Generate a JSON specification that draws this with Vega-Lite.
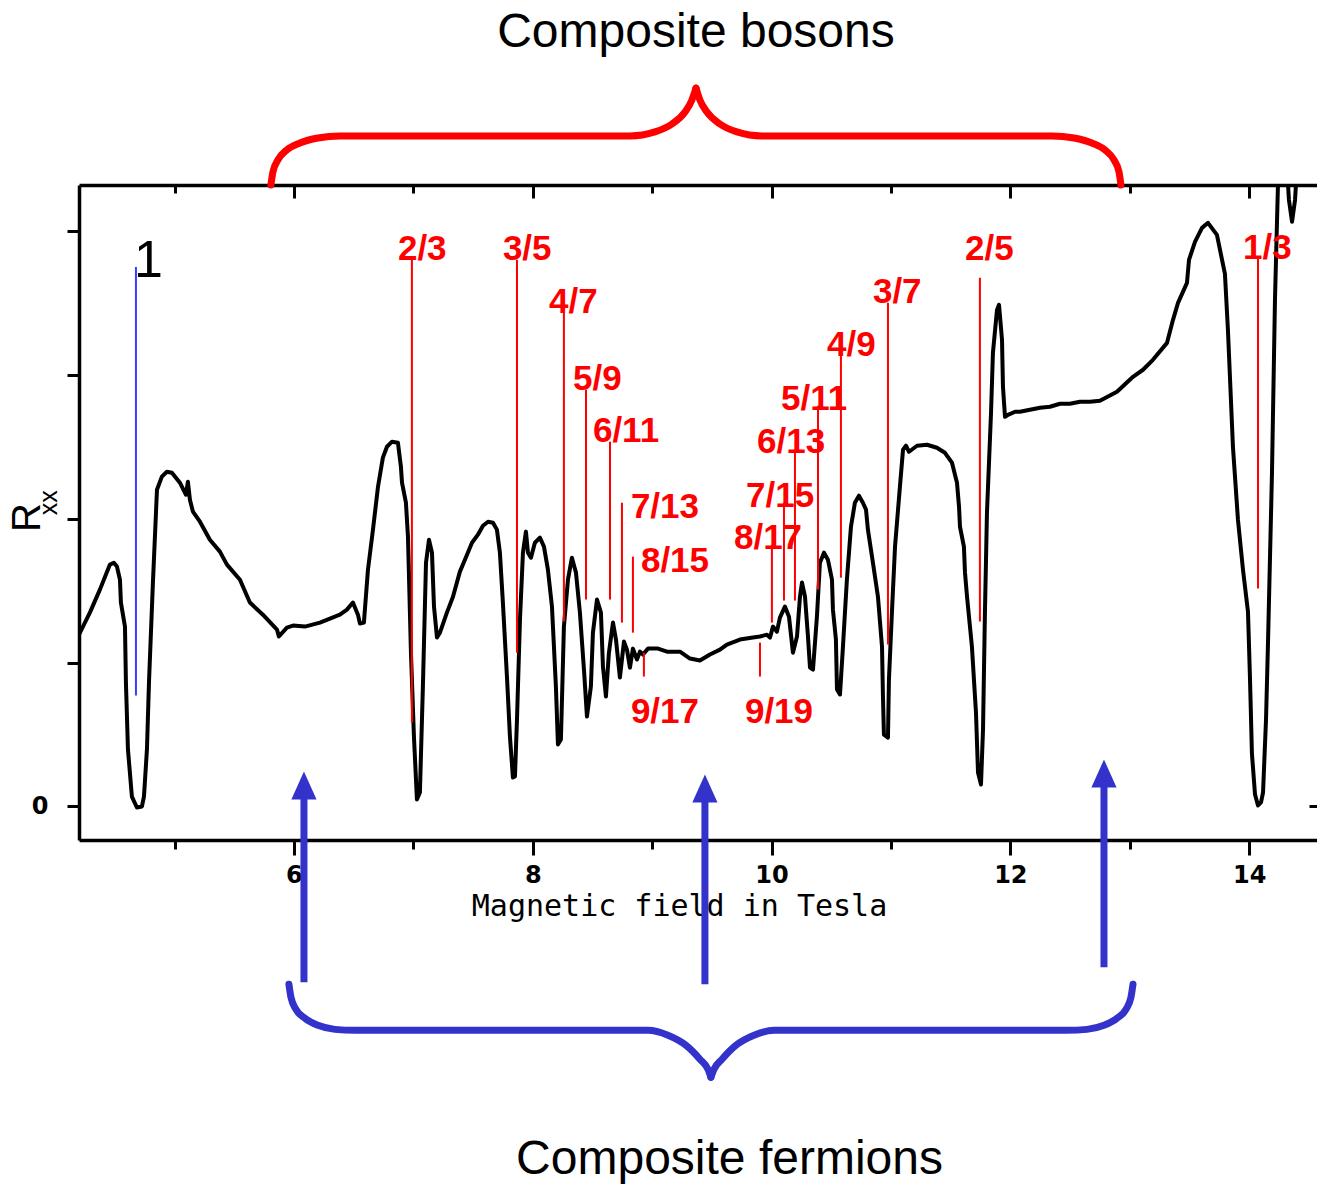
{
  "$schema": "https://vega.github.io/schema/vega-lite/v6.json",
  "width": 1238,
  "height": 655,
  "autosize": {"type": "none"},
  "padding": {"left": 79, "top": 185, "right": 0, "bottom": 344},
  "background": "white",
  "config": {"view": {"stroke": null}, "font": "Liberation Sans"},
  "datasets": {
    "curve": [
      {"b":4.2,"r":1.194},{"b":4.291,"r":1.347},{"b":4.375,"r":1.507},{"b":4.459,"r":1.681},{"b":4.492,"r":1.694},{"b":4.518,"r":1.667},{"b":4.543,"r":1.576},{"b":4.551,"r":1.417},{"b":4.585,"r":1.25},{"b":4.593,"r":0.861},{"b":4.61,"r":0.396},{"b":4.643,"r":0.069},{"b":4.685,"r":-0.007},{"b":4.727,"r":0},{"b":4.744,"r":0.069},{"b":4.769,"r":0.396},{"b":4.786,"r":0.861},{"b":4.819,"r":1.556},{"b":4.853,"r":2.201},{"b":4.894,"r":2.292},{"b":4.936,"r":2.326},{"b":4.978,"r":2.319},{"b":5.045,"r":2.25},{"b":5.095,"r":2.167},{"b":5.112,"r":2.257},{"b":5.129,"r":2.132},{"b":5.154,"r":2.049},{"b":5.213,"r":1.979},{"b":5.296,"r":1.854},{"b":5.38,"r":1.771},{"b":5.439,"r":1.681},{"b":5.548,"r":1.576},{"b":5.631,"r":1.417},{"b":5.74,"r":1.333},{"b":5.858,"r":1.229},{"b":5.874,"r":1.181},{"b":5.941,"r":1.243},{"b":5.992,"r":1.257},{"b":6.092,"r":1.25},{"b":6.218,"r":1.278},{"b":6.385,"r":1.333},{"b":6.444,"r":1.368},{"b":6.494,"r":1.417},{"b":6.536,"r":1.333},{"b":6.553,"r":1.271},{"b":6.586,"r":1.278},{"b":6.62,"r":1.646},{"b":6.662,"r":1.924},{"b":6.704,"r":2.222},{"b":6.745,"r":2.424},{"b":6.779,"r":2.5},{"b":6.821,"r":2.535},{"b":6.871,"r":2.528},{"b":6.896,"r":2.361},{"b":6.905,"r":2.25},{"b":6.938,"r":2.111},{"b":6.955,"r":1.875},{"b":6.98,"r":1.069},{"b":7.005,"r":0.486},{"b":7.03,"r":0.049},{"b":7.055,"r":0.097},{"b":7.08,"r":0.833},{"b":7.106,"r":1.694},{"b":7.131,"r":1.854},{"b":7.156,"r":1.764},{"b":7.173,"r":1.389},{"b":7.198,"r":1.174},{"b":7.223,"r":1.208},{"b":7.281,"r":1.347},{"b":7.332,"r":1.458},{"b":7.39,"r":1.632},{"b":7.432,"r":1.715},{"b":7.491,"r":1.833},{"b":7.541,"r":1.889},{"b":7.583,"r":1.951},{"b":7.625,"r":1.979},{"b":7.667,"r":1.972},{"b":7.7,"r":1.924},{"b":7.725,"r":1.764},{"b":7.75,"r":1.417},{"b":7.784,"r":0.903},{"b":7.809,"r":0.486},{"b":7.834,"r":0.201},{"b":7.851,"r":0.208},{"b":7.868,"r":0.604},{"b":7.893,"r":1.299},{"b":7.918,"r":1.764},{"b":7.943,"r":1.91},{"b":7.96,"r":1.764},{"b":7.985,"r":1.729},{"b":8.018,"r":1.833},{"b":8.06,"r":1.868},{"b":8.094,"r":1.806},{"b":8.127,"r":1.646},{"b":8.161,"r":1.389},{"b":8.194,"r":0.833},{"b":8.211,"r":0.431},{"b":8.236,"r":0.465},{"b":8.261,"r":1.25},{"b":8.295,"r":1.576},{"b":8.328,"r":1.729},{"b":8.362,"r":1.625},{"b":8.395,"r":1.347},{"b":8.429,"r":0.951},{"b":8.454,"r":0.625},{"b":8.487,"r":0.833},{"b":8.504,"r":1.208},{"b":8.538,"r":1.438},{"b":8.571,"r":1.347},{"b":8.588,"r":0.972},{"b":8.613,"r":0.764},{"b":8.638,"r":1.069},{"b":8.672,"r":1.278},{"b":8.697,"r":1.16},{"b":8.73,"r":0.896},{"b":8.764,"r":1.146},{"b":8.789,"r":1.09},{"b":8.814,"r":0.965},{"b":8.839,"r":1.097},{"b":8.873,"r":1.021},{"b":8.898,"r":1.076},{"b":8.923,"r":1.056},{"b":8.965,"r":1.097},{"b":9.049,"r":1.097},{"b":9.124,"r":1.076},{"b":9.233,"r":1.076},{"b":9.317,"r":1.028},{"b":9.4,"r":1.014},{"b":9.484,"r":1.056},{"b":9.568,"r":1.09},{"b":9.626,"r":1.125},{"b":9.735,"r":1.16},{"b":9.844,"r":1.174},{"b":9.903,"r":1.181},{"b":9.961,"r":1.194},{"b":9.987,"r":1.174},{"b":10.012,"r":1.25},{"b":10.045,"r":1.215},{"b":10.07,"r":1.313},{"b":10.112,"r":1.389},{"b":10.146,"r":1.319},{"b":10.179,"r":1.069},{"b":10.213,"r":1.181},{"b":10.238,"r":1.458},{"b":10.255,"r":1.556},{"b":10.28,"r":1.458},{"b":10.305,"r":1.181},{"b":10.322,"r":0.965},{"b":10.347,"r":0.951},{"b":10.38,"r":1.319},{"b":10.405,"r":1.694},{"b":10.439,"r":1.764},{"b":10.472,"r":1.715},{"b":10.506,"r":1.576},{"b":10.514,"r":1.368},{"b":10.539,"r":1.16},{"b":10.548,"r":0.813},{"b":10.573,"r":0.778},{"b":10.598,"r":1.111},{"b":10.631,"r":1.576},{"b":10.665,"r":1.944},{"b":10.698,"r":2.111},{"b":10.732,"r":2.16},{"b":10.765,"r":2.111},{"b":10.791,"r":2.063},{"b":10.807,"r":1.924},{"b":10.849,"r":1.694},{"b":10.891,"r":1.458},{"b":10.925,"r":1.111},{"b":10.933,"r":0.764},{"b":10.941,"r":0.5},{"b":10.975,"r":0.479},{"b":10.983,"r":0.882},{"b":11.008,"r":1.347},{"b":11.034,"r":1.806},{"b":11.075,"r":2.222},{"b":11.101,"r":2.479},{"b":11.126,"r":2.507},{"b":11.151,"r":2.465},{"b":11.218,"r":2.507},{"b":11.302,"r":2.514},{"b":11.385,"r":2.493},{"b":11.452,"r":2.458},{"b":11.511,"r":2.389},{"b":11.553,"r":2.25},{"b":11.57,"r":2.083},{"b":11.578,"r":1.944},{"b":11.611,"r":1.806},{"b":11.62,"r":1.625},{"b":11.637,"r":1.458},{"b":11.678,"r":1.111},{"b":11.712,"r":0.653},{"b":11.729,"r":0.236},{"b":11.754,"r":0.153},{"b":11.771,"r":0.535},{"b":11.787,"r":1.347},{"b":11.804,"r":2.042},{"b":11.838,"r":2.736},{"b":11.854,"r":3.153},{"b":11.888,"r":3.451},{"b":11.905,"r":3.486},{"b":11.93,"r":3.243},{"b":11.938,"r":2.917},{"b":11.955,"r":2.708},{"b":11.98,"r":2.722},{"b":12.039,"r":2.743},{"b":12.08,"r":2.743},{"b":12.164,"r":2.757},{"b":12.248,"r":2.771},{"b":12.332,"r":2.778},{"b":12.415,"r":2.799},{"b":12.499,"r":2.799},{"b":12.583,"r":2.813},{"b":12.667,"r":2.813},{"b":12.75,"r":2.819},{"b":12.893,"r":2.882},{"b":13.027,"r":2.986},{"b":13.111,"r":3.035},{"b":13.194,"r":3.104},{"b":13.312,"r":3.222},{"b":13.362,"r":3.382},{"b":13.404,"r":3.5},{"b":13.479,"r":3.639},{"b":13.496,"r":3.799},{"b":13.546,"r":3.924},{"b":13.605,"r":4.021},{"b":13.655,"r":4.056},{"b":13.73,"r":3.972},{"b":13.797,"r":3.701},{"b":13.822,"r":3.313},{"b":13.864,"r":2.5},{"b":13.906,"r":1.993},{"b":13.948,"r":1.646},{"b":13.99,"r":1.354},{"b":14.007,"r":0.882},{"b":14.023,"r":0.368},{"b":14.049,"r":0.083},{"b":14.074,"r":0.007},{"b":14.099,"r":0.028},{"b":14.116,"r":0.097},{"b":14.141,"r":0.604},{"b":14.157,"r":1.118},{"b":14.191,"r":2.319},{"b":14.216,"r":3.521},{"b":14.241,"r":4.319},{"b":14.266,"r":4.563},{"b":14.308,"r":4.563},{"b":14.333,"r":4.215},{"b":14.359,"r":4.063},{"b":14.384,"r":4.215},{"b":14.409,"r":4.563},{"b":14.442,"r":4.91}
    ],
    "fractions": [
      {"f":"2/3","x":6.988,"y1":3.799,"y2":0.583,"lx":6.871,"ly":3.799},
      {"f":"3/5","x":7.868,"y1":3.799,"y2":1.069,"lx":7.75,"ly":3.799},
      {"f":"4/7","x":8.261,"y1":3.431,"y2":1.285,"lx":8.136,"ly":3.431},
      {"f":"5/9","x":8.446,"y1":2.896,"y2":1.438,"lx":8.337,"ly":2.896},
      {"f":"6/11","x":8.647,"y1":2.535,"y2":1.438,"lx":8.504,"ly":2.535},
      {"f":"7/13","x":8.747,"y1":2.111,"y2":1.278,"lx":8.822,"ly":2.007},
      {"f":"8/15","x":8.839,"y1":1.736,"y2":1.208,"lx":8.906,"ly":1.632},
      {"f":"9/17","x":8.931,"y1":1.069,"y2":0.903,"lx":8.822,"ly":0.583},
      {"f":"9/19","x":9.903,"y1":1.139,"y2":0.903,"lx":9.777,"ly":0.583},
      {"f":"8/17","x":10.003,"y1":1.819,"y2":1.278,"lx":9.685,"ly":1.792},
      {"f":"7/15","x":10.104,"y1":2.111,"y2":1.431,"lx":9.786,"ly":2.083},
      {"f":"6/13","x":10.196,"y1":2.479,"y2":1.431,"lx":9.878,"ly":2.458},
      {"f":"5/11","x":10.389,"y1":2.785,"y2":1.507,"lx":10.079,"ly":2.757},
      {"f":"4/9","x":10.581,"y1":3.132,"y2":1.59,"lx":10.464,"ly":3.132},
      {"f":"3/7","x":10.975,"y1":3.5,"y2":1.125,"lx":10.849,"ly":3.5},
      {"f":"2/5","x":11.745,"y1":3.674,"y2":1.285,"lx":11.62,"ly":3.799},
      {"f":"1/3","x":14.074,"y1":3.819,"y2":1.514,"lx":13.948,"ly":3.806}
    ],
    "integer": [
      {"f":"1","x":4.677,"y1":3.75,"y2":0.771,"lx":4.66,"ly":3.681}
    ],
    "redbrace": [
      {"b":5.807,"r":4.319,"part":"L"},{"b":5.824,"r":4.41,"part":"L"},{"b":5.866,"r":4.493,"part":"L"},{"b":5.941,"r":4.563,"part":"L"},{"b":6.05,"r":4.611,"part":"L"},{"b":6.201,"r":4.646,"part":"L"},{"b":6.385,"r":4.66,"part":"L"},{"b":8.814,"r":4.66,"part":"L"},{"b":9.023,"r":4.688,"part":"L"},{"b":9.166,"r":4.743,"part":"L"},{"b":9.275,"r":4.826,"part":"L"},{"b":9.333,"r":4.91,"part":"L"},{"b":9.367,"r":4.993,"part":"L"},
      {"b":9.367,"r":4.993,"part":"R"},{"b":9.4,"r":4.91,"part":"R"},{"b":9.459,"r":4.826,"part":"R"},{"b":9.568,"r":4.743,"part":"R"},{"b":9.71,"r":4.688,"part":"R"},{"b":9.92,"r":4.66,"part":"R"},{"b":12.348,"r":4.66,"part":"R"},{"b":12.533,"r":4.646,"part":"R"},{"b":12.683,"r":4.611,"part":"R"},{"b":12.792,"r":4.563,"part":"R"},{"b":12.868,"r":4.493,"part":"R"},{"b":12.91,"r":4.41,"part":"R"},{"b":12.926,"r":4.319,"part":"R"}
    ],
    "bluebrace": [
      {"b":5.958,"r":-1.236,"part":"L"},{"b":5.975,"r":-1.326,"part":"L"},{"b":6.017,"r":-1.41,"part":"L"},{"b":6.092,"r":-1.472,"part":"L"},{"b":6.201,"r":-1.521,"part":"L"},{"b":6.343,"r":-1.549,"part":"L"},{"b":6.511,"r":-1.556,"part":"L"},{"b":8.965,"r":-1.556,"part":"L"},{"b":9.132,"r":-1.59,"part":"L"},{"b":9.283,"r":-1.66,"part":"L"},{"b":9.4,"r":-1.757,"part":"L"},{"b":9.467,"r":-1.826,"part":"L"},{"b":9.492,"r":-1.882,"part":"L"},
      {"b":9.492,"r":-1.882,"part":"R"},{"b":9.518,"r":-1.826,"part":"R"},{"b":9.585,"r":-1.757,"part":"R"},{"b":9.702,"r":-1.66,"part":"R"},{"b":9.853,"r":-1.59,"part":"R"},{"b":10.02,"r":-1.556,"part":"R"},{"b":12.474,"r":-1.556,"part":"R"},{"b":12.642,"r":-1.549,"part":"R"},{"b":12.784,"r":-1.521,"part":"R"},{"b":12.893,"r":-1.472,"part":"R"},{"b":12.968,"r":-1.41,"part":"R"},{"b":13.01,"r":-1.326,"part":"R"},{"b":13.027,"r":-1.236,"part":"R"}
    ],
    "arrows": [
      {"b":6.084,"y1":-1.222,"y2":0.07,"hy":0.146},
      {"b":9.442,"y1":-1.236,"y2":0.05,"hy":0.125},
      {"b":12.784,"y1":-1.118,"y2":0.15,"hy":0.229}
    ],
    "notes": [
      {"t":"Composite bosons","b":9.367,"r":5.278},
      {"t":"Composite fermions","b":9.648,"r":-2.556}
    ]
  },
  "layer": [
    {
      "data": {"name": "curve"},
      "mark": {"type": "line", "color": "black", "strokeWidth": 4, "strokeJoin": "round", "clip": true},
      "encoding": {
        "x": {"field": "b", "type": "quantitative",
          "scale": {"domain": [4.2, 14.568], "nice": false, "zero": false},
          "axis": {"orient": "bottom", "values": [5,6,7,8,9,10,11,12,13,14],
            "tickSize": {"condition": {"test": "datum.value % 2 == 0", "value": 15}, "value": 9},
            "tickWidth": 3, "tickColor": "black", "domainColor": "black", "domainWidth": 3.5, "grid": false,
            "labelExpr": "datum.value % 2 == 0 ? datum.label : ''",
            "labelFont": "DejaVu Sans", "labelFontWeight": "bold", "labelFontSize": 24, "labelColor": "black", "labelPadding": 8, "labelFlush": false,
            "title": "Magnetic field in Tesla", "titleFont": "DejaVu Sans Mono", "titleFontSize": 30, "titleFontWeight": "normal", "titleColor": "black",
            "titleX": 600, "titleY": 75, "titleBaseline": "alphabetic", "titleAlign": "center"}},
        "y": {"field": "r", "type": "quantitative",
          "scale": {"domain": [-0.233, 4.319], "nice": false, "zero": false},
          "axis": {"orient": "left", "values": [0,1,2,3,4], "tickSize": 12, "tickWidth": 3, "tickColor": "black",
            "domainColor": "black", "domainWidth": 3.5, "grid": false,
            "labelExpr": "datum.value == 0 ? '0' : ''", "labelFont": "DejaVu Sans", "labelFontWeight": "bold", "labelFontSize": 24, "labelColor": "black", "labelPadding": 19,
            "title": null}}
      }
    },
    {
      "data": {"name": "fractions"},
      "mark": {"type": "rule", "color": "#ff0000", "strokeWidth": 2},
      "encoding": {
        "x": {"field": "x", "type": "quantitative",
          "scale": {"domain": [4.2, 14.568], "nice": false, "zero": false},
          "axis": {"orient": "top", "values": [5,6,7,8,9,10,11,12,13,14],
            "tickSize": {"condition": {"test": "datum.value % 2 == 0", "value": -13}, "value": -8},
            "tickWidth": 3, "tickColor": "black", "domainColor": "black", "domainWidth": 3.5, "grid": false, "labels": false, "title": null}},
        "y": {"field": "y1", "type": "quantitative",
          "scale": {"domain": [-0.233, 4.319], "nice": false, "zero": false},
          "axis": {"orient": "right", "values": [0], "tickSize": -8, "tickWidth": 3, "tickColor": "black", "domain": false, "grid": false, "labels": false, "title": null}},
        "y2": {"field": "y2"}
      }
    },
    {
      "data": {"name": "fractions"},
      "mark": {"type": "text", "color": "#ff0000", "font": "Liberation Sans", "fontSize": 35, "fontWeight": "bold", "align": "left", "baseline": "alphabetic"},
      "encoding": {
        "x": {"field": "lx", "type": "quantitative", "scale": {"domain": [4.2, 14.568], "nice": false, "zero": false}, "axis": null},
        "y": {"field": "ly", "type": "quantitative", "scale": {"domain": [-0.233, 4.319], "nice": false, "zero": false}, "axis": null},
        "text": {"field": "f"}
      }
    },
    {
      "data": {"name": "integer"},
      "mark": {"type": "rule", "color": "#3b3bff", "strokeWidth": 2},
      "encoding": {
        "x": {"field": "x", "type": "quantitative", "scale": {"domain": [4.2, 14.568], "nice": false, "zero": false}, "axis": null},
        "y": {"field": "y1", "type": "quantitative", "scale": {"domain": [-0.233, 4.319], "nice": false, "zero": false}, "axis": null},
        "y2": {"field": "y2"}
      }
    },
    {
      "data": {"name": "integer"},
      "mark": {"type": "text", "color": "black", "font": "Liberation Sans", "fontSize": 52, "align": "left", "baseline": "alphabetic"},
      "encoding": {
        "x": {"field": "lx", "type": "quantitative", "scale": {"domain": [4.2, 14.568], "nice": false, "zero": false}, "axis": null},
        "y": {"field": "ly", "type": "quantitative", "scale": {"domain": [-0.233, 4.319], "nice": false, "zero": false}, "axis": null},
        "text": {"field": "f"}
      }
    },
    {
      "data": {"name": "redbrace"},
      "mark": {"type": "line", "color": "#ff0000", "strokeWidth": 7, "strokeCap": "round", "interpolate": "monotone", "clip": false},
      "encoding": {
        "x": {"field": "b", "type": "quantitative", "scale": {"domain": [4.2, 14.568], "nice": false, "zero": false}, "axis": null},
        "y": {"field": "r", "type": "quantitative", "scale": {"domain": [-0.233, 4.319], "nice": false, "zero": false}, "axis": null},
        "detail": {"field": "part"}
      }
    },
    {
      "data": {"name": "bluebrace"},
      "mark": {"type": "line", "color": "#3333cc", "strokeWidth": 7, "strokeCap": "round", "interpolate": "monotone", "clip": false},
      "encoding": {
        "x": {"field": "b", "type": "quantitative", "scale": {"domain": [4.2, 14.568], "nice": false, "zero": false}, "axis": null},
        "y": {"field": "r", "type": "quantitative", "scale": {"domain": [-0.233, 4.319], "nice": false, "zero": false}, "axis": null},
        "detail": {"field": "part"}
      }
    },
    {
      "data": {"name": "arrows"},
      "mark": {"type": "rule", "color": "#3333cc", "strokeWidth": 7, "clip": false},
      "encoding": {
        "x": {"field": "b", "type": "quantitative", "scale": {"domain": [4.2, 14.568], "nice": false, "zero": false}, "axis": null},
        "y": {"field": "y1", "type": "quantitative", "scale": {"domain": [-0.233, 4.319], "nice": false, "zero": false}, "axis": null},
        "y2": {"field": "y2"}
      }
    },
    {
      "data": {"name": "arrows"},
      "mark": {"type": "point", "shape": "M-0.9,1L0,-1L0.9,1Z", "filled": true, "color": "#3333cc", "opacity": 1, "size": 784, "clip": false},
      "encoding": {
        "x": {"field": "b", "type": "quantitative", "scale": {"domain": [4.2, 14.568], "nice": false, "zero": false}, "axis": null},
        "y": {"field": "hy", "type": "quantitative", "scale": {"domain": [-0.233, 4.319], "nice": false, "zero": false}, "axis": null}
      }
    },
    {
      "data": {"name": "notes"},
      "mark": {"type": "text", "color": "black", "font": "Liberation Sans", "fontSize": 48, "align": "center", "baseline": "alphabetic"},
      "encoding": {
        "x": {"field": "b", "type": "quantitative", "scale": {"domain": [4.2, 14.568], "nice": false, "zero": false}, "axis": null},
        "y": {"field": "r", "type": "quantitative", "scale": {"domain": [-0.233, 4.319], "nice": false, "zero": false}, "axis": null},
        "text": {"field": "t"}
      }
    },
    {
      "data": {"values": [{"t": "R", "b": 3.77, "r": 2.007, "s": 34}, {"t": "xx", "b": 3.955, "r": 2.11, "s": 18}]},
      "mark": {"type": "text", "color": "black", "font": "Liberation Sans", "angle": 270, "align": "center", "baseline": "middle"},
      "encoding": {
        "x": {"field": "b", "type": "quantitative", "scale": {"domain": [4.2, 14.568], "nice": false, "zero": false}, "axis": null},
        "y": {"field": "r", "type": "quantitative", "scale": {"domain": [-0.233, 4.319], "nice": false, "zero": false}, "axis": null},
        "text": {"field": "t"},
        "size": {"field": "s", "type": "quantitative", "scale": {"type": "identity"}, "legend": null}
      }
    }
  ],
  "resolve": {"axis": {"x": "independent", "y": "independent"}}
}
